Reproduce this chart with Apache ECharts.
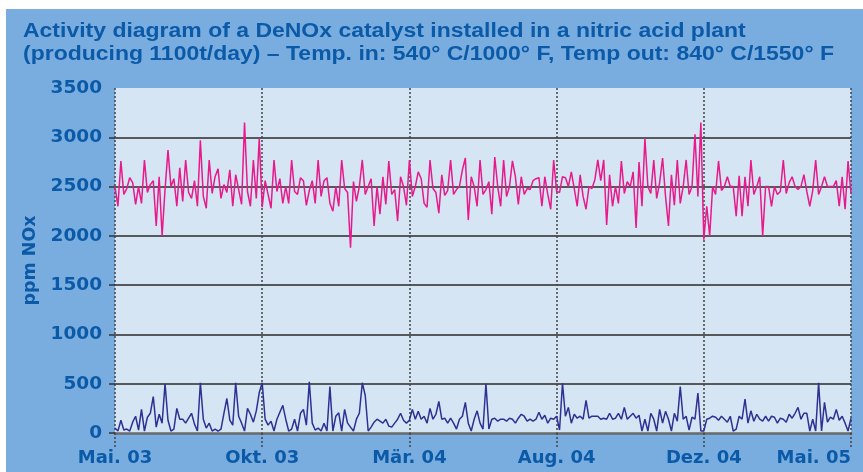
<!DOCTYPE html>
<html><head><meta charset="utf-8">
<script src="https://cdn.jsdelivr.net/npm/echarts@6/dist/echarts.min.js"></script>
<style>
html,body{margin:0;padding:0;background:#fff;width:863px;height:472px;overflow:hidden}
#c{position:absolute;left:6px;top:9px;width:857px;height:463px;background:#79addf}
</style></head><body><div id="c"></div>
<script>
const titleLines = [
  'Activity diagram of a DeNOx catalyst installed in a nitric acid plant',
  '(producing 1100t/day) \u2013 Temp. in: 540\u00b0 C/1000\u00b0 F, Temp out: 840\u00b0 C/1550\u00b0 F'
];
const tickLabels = ['Mai. 03','Okt. 03','M\u00e4r. 04','Aug. 04','Dez. 04','Mai. 05'];
const yTicks = [0,500,1000,1500,2000,2500,3000];
const pinkValues = [
2500,2300,2760,2420,2480,2590,2540,2320,2500,2330,
2770,2440,2520,2560,2100,2600,2000,2470,2870,2500,
2580,2300,2690,2350,2770,2440,2380,2560,2300,2970,
2400,2280,2770,2430,2600,2680,2380,2520,2440,2670,
2300,2620,2470,2320,3150,2450,2300,2770,2380,2990,
2290,2560,2420,2280,2770,2450,2580,2330,2500,2330,
2770,2450,2420,2590,2560,2310,2460,2560,2330,2770,
2400,2560,2590,2330,2250,2500,2300,2770,2480,2440,
1880,2550,2350,2500,2770,2420,2500,2580,2100,2500,
2220,2600,2320,2760,2420,2470,2150,2600,2500,2310,
2770,2400,2500,2650,2580,2330,2290,2770,2480,2440,
2230,2620,2410,2460,2770,2420,2470,2500,2670,2790,
2160,2600,2500,2300,2770,2420,2470,2550,2220,2800,
2500,2300,2770,2400,2500,2760,2600,2320,2600,2420,
2480,2470,2560,2580,2590,2300,2600,2420,2270,2770,
2450,2440,2600,2590,2500,2650,2480,2300,2620,2400,
2270,2500,2480,2570,2770,2560,2770,2110,2620,2300,
2500,2330,2760,2430,2550,2500,2650,2080,2750,2300,
2990,2500,2430,2770,2380,2540,2790,2400,2100,2620,
2310,2770,2330,2500,2770,2420,2500,3030,2400,3150,
1960,2300,2000,2500,2420,2760,2460,2500,2600,2500,
2500,2200,2610,2200,2600,2300,2770,2420,2500,2600,
2000,2500,2500,2300,2500,2420,2450,2770,2430,2540,
2600,2500,2470,2500,2620,2450,2300,2460,2770,2420,
2500,2600,2500,2500,2500,2560,2300,2600,2270,2760,
2430];
const navyValues = [
50,20,130,30,40,20,110,170,30,240,
20,160,200,370,60,190,100,500,130,20,
40,250,140,140,100,150,200,90,20,510,
140,50,100,20,40,20,40,200,350,130,
80,510,170,100,20,250,190,110,225,410,
510,140,80,120,20,140,210,280,140,20,
40,140,20,200,240,80,520,100,30,50,
20,100,20,470,20,170,205,20,240,100,
60,20,140,200,510,380,20,60,110,140,
120,100,140,70,60,100,140,200,130,100,
130,240,140,220,140,170,100,250,140,190,
320,140,150,100,150,100,40,140,170,310,
100,20,140,225,100,40,500,40,140,150,
120,140,140,120,150,140,100,150,190,170,
120,140,120,140,210,140,180,100,150,140,
170,30,505,170,260,100,190,150,170,140,
330,150,170,170,170,140,150,140,200,140,
150,200,140,260,140,170,200,150,180,20,
140,20,200,140,20,240,100,220,140,20,
200,120,470,140,170,30,160,140,405,20,
20,140,150,170,160,130,170,140,110,170,
20,40,170,140,345,100,225,120,190,140,
120,170,120,170,160,100,150,140,110,190,
150,200,260,140,200,200,20,140,20,510,
20,310,110,160,140,240,130,170,100,20,
150];

const textBlue = '#0b5aa8';
const titleFamily = 'Liberation Sans';
const mctx = document.createElement('canvas').getContext('2d');
mctx.font = 'bold 20px "' + titleFamily + '"';
const titleScale = 811 / mctx.measureText(titleLines[1]).width;

const step = (pinkValues.length - 1) / (tickLabels.length - 1);
const chart = echarts.init(document.getElementById('c'));
chart.setOption({
  animation: false,
  graphic: titleLines.map((t, k) => ({
    type: 'text', x: 17, y: 22 + 23.8 * k, scaleX: titleScale,
    style: {text: t, fontFamily: titleFamily, fontWeight: 'bold', fontSize: 20, fill: textBlue, verticalAlign: 'middle', align: 'left'}
  })),
  grid: {left: 109, right: 12, top: 79, bottom: 39, show: true, backgroundColor: '#d6e5f3', borderWidth: 0},
  xAxis: {
    type: 'value', min: 0, max: pinkValues.length - 1, interval: step,
    axisLine: {show: true, lineStyle: {color: '#6a6a6a', width: 2.5}},
    axisTick: {show: true, length: 14, lineStyle: {color: '#444', type: [2, 2], width: 1.5}},
    splitLine: {show: true, lineStyle: {color: '#444', type: [2, 2], width: 1.5}},
    axisLabel: {
      formatter: v => tickLabels[Math.round(v / step)],
      fontFamily: 'DejaVu Sans', fontWeight: 'bold', fontSize: 18, color: textBlue, margin: 16,
      alignMaxLabel: 'right'
    }
  },
  yAxis: {
    type: 'value', min: 0, max: 3500, interval: 500,
    name: 'ppm NOx', nameLocation: 'middle', nameGap: 61, nameRotate: 90,
    nameTextStyle: {fontFamily: 'DejaVu Sans', fontWeight: 'bold', fontSize: 17.5, color: textBlue},
    axisLine: {show: false},
    axisTick: {show: true, length: 6, customValues: yTicks, lineStyle: {color: '#333', width: 1.5}},
    splitLine: {show: true, lineStyle: {color: ['rgba(0,0,0,0)', '#2a2a2a', '#2a2a2a', '#2a2a2a', '#2a2a2a', '#2a2a2a', '#2a2a2a', 'rgba(0,0,0,0)'], width: 1.5}},
    axisLabel: {formatter: v => String(v), fontFamily: 'DejaVu Sans', fontWeight: 'bold', fontSize: 18.5, color: textBlue, margin: 13}
  },
  series: [
    {type: 'line', showSymbol: false, data: pinkValues.map((v, i) => [i, v]), lineStyle: {color: '#e8198b', width: 1.5}},
    {type: 'line', showSymbol: false, data: navyValues.map((v, i) => [i, v]), lineStyle: {color: '#2e3192', width: 1.5}}
  ]
});
</script></body></html>
